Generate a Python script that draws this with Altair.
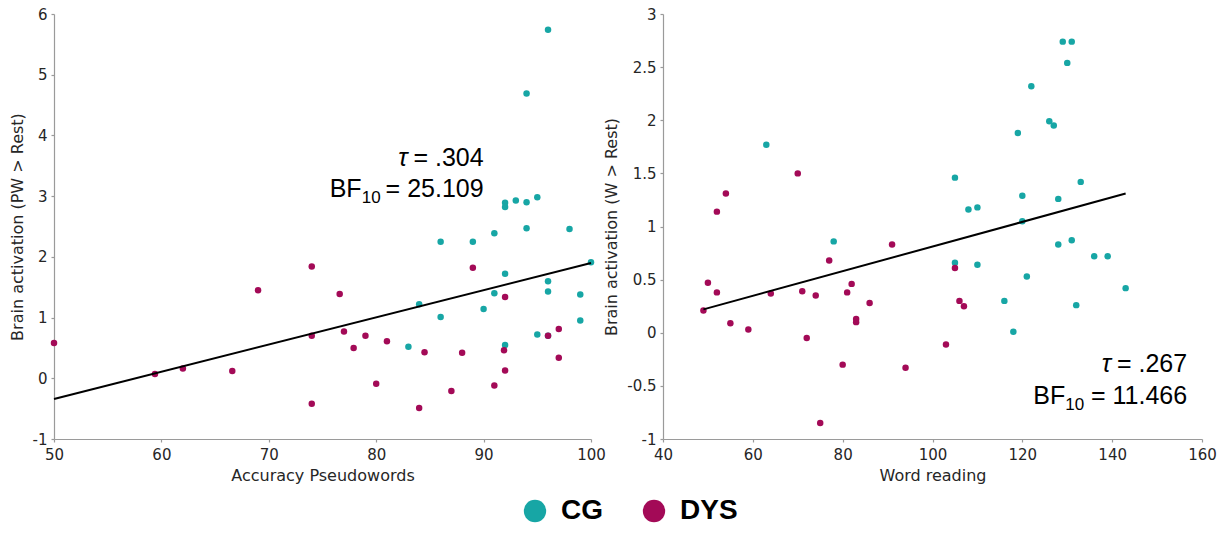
import altair as alt
import pandas as pd

# ---------------- Left panel: Accuracy Pseudowords ----------------
pw_cg_x = [96, 94, 92, 92, 93, 94, 95, 94, 98, 86, 89, 91, 100, 92, 96, 96, 91, 99, 84, 90, 86, 99, 95, 96, 83, 92]
pw_cg_y = [5.74, 4.69, 2.89, 2.82, 2.93, 2.90, 2.98, 2.47, 2.46, 2.25, 2.25, 2.39, 1.91, 1.72, 1.60, 1.43,
           1.40, 1.38, 1.22, 1.14, 1.01, 0.95, 0.72, 0.70, 0.52, 0.55]
pw_dys_x = [50, 59.4, 62, 66.6, 69, 74, 89, 76.6, 92, 74, 77, 79, 97, 96, 77.9, 81, 84.5, 88, 91.9, 97, 92,
            80, 91, 87, 74, 84]
pw_dys_y = [0.58, 0.07, 0.16, 0.12, 1.45, 1.84, 1.82, 1.39, 1.34, 0.70, 0.77, 0.70, 0.81, 0.70, 0.50, 0.61,
            0.43, 0.42, 0.46, 0.34, 0.13, -0.09, -0.12, -0.21, -0.42, -0.49]
pw_fit_x = [50, 100]
pw_fit_y = [-0.34, 1.90]
pw_ann_x = [90, 90]
pw_ann_y = [3.5, 2.98]
pw_tau = ".304"
pw_bf = "25.109"

# ---------------- Right panel: Word reading ----------------
wr_cg_x = [63, 78, 129, 131, 130, 122, 126, 127, 119, 105, 133, 120, 128, 108, 110, 120, 128, 131, 136, 139,
           105, 110, 121, 143, 116, 132, 118]
wr_cg_y = [1.77, 0.86, 2.74, 2.74, 2.54, 2.32, 1.99, 1.95, 1.88, 1.46, 1.42, 1.29, 1.26, 1.16, 1.18, 1.05,
           0.83, 0.87, 0.72, 0.72, 0.66, 0.64, 0.53, 0.42, 0.30, 0.26, 0.01]
wr_dys_x = [70, 54, 52, 91, 77, 50, 52, 64, 71, 74, 81, 82, 86, 49, 55, 59, 83, 83, 72, 80, 94, 75, 105,
            106, 107, 103]
wr_dys_y = [1.50, 1.31, 1.14, 0.83, 0.68, 0.47, 0.38, 0.37, 0.39, 0.35, 0.38, 0.46, 0.28, 0.21, 0.09, 0.03,
            0.13, 0.10, -0.05, -0.30, -0.33, -0.85, 0.61, 0.30, 0.25, -0.11]
wr_fit_x = [49, 143]
wr_fit_y = [0.22, 1.31]
wr_ann_x = [156.7, 156.7]
wr_ann_y = [-0.37, -0.67]
wr_tau = ".267"
wr_bf = "11.466"

groups = ["CG", "DYS"]
colors = ["#17A6A5", "#A30A57"]

AXIS_FONT = "DejaVu Sans"
ANN_FONT = "Liberation Sans"


def points_df(cx, cy, dx, dy):
    rows = [{"x": a, "y": b, "group": "CG"} for a, b in zip(cx, cy)]
    rows += [{"x": a, "y": b, "group": "DYS"} for a, b in zip(dx, dy)]
    return pd.DataFrame(rows)


def panel(cx, cy, dx, dy, fx, fy, ax, ay, tau, bf, xdom, ydom, xtick, ytick, xtitle, ytitle, w):
    pts = points_df(cx, cy, dx, dy)
    xs = alt.Scale(domain=xdom, nice=False, zero=False)
    ys = alt.Scale(domain=ydom, nice=False, zero=False)
    common = dict(grid=False, tickSize=3, labelFontSize=15, titleFontSize=16, labelFont=AXIS_FONT,
                  titleFont=AXIS_FONT, titleFontWeight="normal", labelColor="#262626",
                  titleColor="#262626", domainColor="#9a9a9a", tickColor="#9a9a9a",
                  labelFlush=False, labelExpr="toString(datum.value)")
    xaxis = alt.Axis(values=xtick, title=xtitle, labelPadding=5, titlePadding=5, **common)
    yaxis = alt.Axis(values=ytick, title=ytitle, labelPadding=4, titlePadding=7, **common)
    scatter = alt.Chart(pts).mark_circle(size=42, opacity=1).encode(
        x=alt.X("x:Q", scale=xs, axis=xaxis),
        y=alt.Y("y:Q", scale=ys, axis=yaxis),
        color=alt.Color("group:N", scale=alt.Scale(domain=groups, range=colors),
                        legend=alt.Legend(title=None, orient="none", direction="horizontal",
                                          legendX=467, legendY=483, symbolType="circle",
                                          symbolSize=500, symbolStrokeWidth=0, symbolOpacity=1,
                                          labelFontSize=28, labelFontWeight="bold",
                                          labelFont=ANN_FONT, labelColor="#000000",
                                          columnPadding=37, labelOffset=12, labelLimit=200)),
        order=alt.Order("group:N", sort="ascending"),
    )
    fit = alt.Chart(pd.DataFrame({"x": fx, "y": fy})).mark_line(color="black", strokeWidth=2).encode(
        x=alt.X("x:Q", scale=xs), y=alt.Y("y:Q", scale=ys))

    ann_tau = pd.DataFrame({"x": [ax[0]], "y": [ay[0]], "t": ["= " + tau]})
    ann_bf = pd.DataFrame({"x": [ax[1]], "y": [ay[1]], "t": ["= " + bf]})
    base_txt = dict(font=ANN_FONT, fontSize=25, color="black", align="right", baseline="alphabetic")
    t1 = alt.Chart(ann_tau).mark_text(**base_txt).encode(
        x=alt.X("x:Q", scale=xs), y=alt.Y("y:Q", scale=ys), text="t:N")
    t2 = alt.Chart(ann_tau.assign(t="τ")).mark_text(dx=-76, fontStyle="italic", **base_txt).encode(
        x=alt.X("x:Q", scale=xs), y=alt.Y("y:Q", scale=ys), text="t:N")
    b1 = alt.Chart(ann_bf).mark_text(**base_txt).encode(
        x=alt.X("x:Q", scale=xs), y=alt.Y("y:Q", scale=ys), text="t:N")
    b2 = alt.Chart(ann_bf.assign(t="10")).mark_text(dx=-103, dy=6, font=ANN_FONT, fontSize=17,
                                                   color="black", align="right",
                                                   baseline="alphabetic").encode(
        x=alt.X("x:Q", scale=xs), y=alt.Y("y:Q", scale=ys), text="t:N")
    b3 = alt.Chart(ann_bf.assign(t="BF")).mark_text(dx=-122, **base_txt).encode(
        x=alt.X("x:Q", scale=xs), y=alt.Y("y:Q", scale=ys), text="t:N")
    return alt.layer(scatter, fit, t1, t2, b1, b2, b3).properties(width=w, height=425)


left = panel(pw_cg_x, pw_cg_y, pw_dys_x, pw_dys_y, pw_fit_x, pw_fit_y, pw_ann_x, pw_ann_y, pw_tau, pw_bf,
             [50, 100], [-1, 6], [50, 60, 70, 80, 90, 100], [-1, 0, 1, 2, 3, 4, 5, 6],
             "Accuracy Pseudowords", "Brain activation (PW > Rest)", 537)
right = panel(wr_cg_x, wr_cg_y, wr_dys_x, wr_dys_y, wr_fit_x, wr_fit_y, wr_ann_x, wr_ann_y, wr_tau, wr_bf,
              [40, 160], [-1, 3], [40, 60, 80, 100, 120, 140, 160], [-1, -0.5, 0, 0.5, 1, 1.5, 2, 2.5, 3],
              "Word reading", "Brain activation (W > Rest)", 539)

chart = alt.hconcat(left, right, spacing=72, bounds="flush").properties(
    padding={"left": 9, "top": 7, "right": 0, "bottom": 0}
).configure_view(stroke=None).configure_axis(domainWidth=1.2, tickWidth=1.2)

chart.save("out.html", embed_options={"renderer": "svg", "actions": False})
